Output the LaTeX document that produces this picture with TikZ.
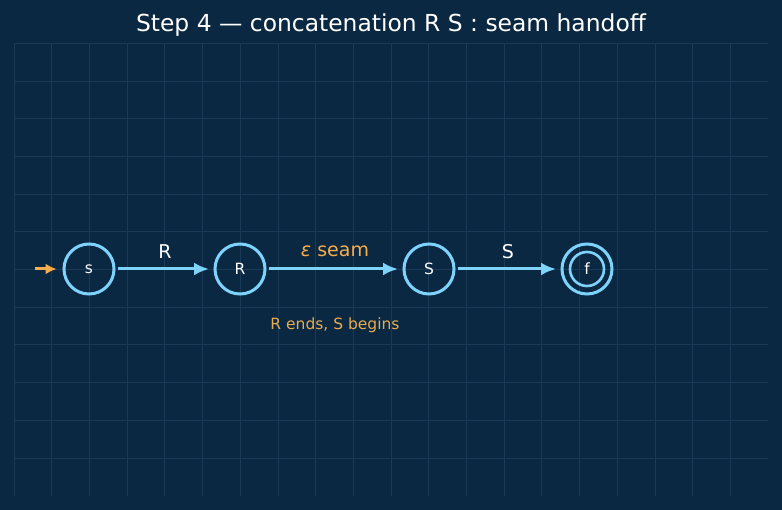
\documentclass[tikz,border=0pt]{standalone}
\usepackage{fontspec}
\setmainfont{DejaVu Sans}
\usetikzlibrary{arrows.meta}
\definecolor{bg}{HTML}{0B2842}
\definecolor{gridc}{HTML}{1A3B58}
\definecolor{edgec}{HTML}{7DD3FC}
\definecolor{orng}{HTML}{F6AD4B}
\definecolor{capc}{HTML}{E8AC50}
\begin{document}
\begin{tikzpicture}[x=1pt,y=-1pt,
  state/.style={circle,draw=edgec,line width=3pt,minimum size=50pt,inner sep=0pt,text=white,font=\fontsize{15.5}{18}\selectfont},
  inring/.style={circle,draw=edgec,line width=2.6pt,minimum size=34pt,inner sep=0pt},
  trans/.style={draw=edgec,line width=3pt,-{Latex[length=15pt,width=13pt]}},
  lbl/.style={text=white,font=\fontsize{19}{22}\selectfont},
]
\fill[bg] (0,0) rectangle (782,510);
\useasboundingbox (0,0) rectangle (782,510);
\foreach \i in {0,...,19} \draw[gridc,line width=0.8pt] ({14+37.7*\i},43.3) -- ({14+37.7*\i},496);
\foreach \j in {0,...,11} \draw[gridc,line width=0.8pt] (14,{43.3+37.7*\j}) -- (768,{43.3+37.7*\j});
\node[text=white,font=\fontsize{23.4}{28}\selectfont] (title) at (391,25.5) {Step 4 — concatenation R S : seam handoff};
\node[state] (s) at (89,269) {s};
\node[state] (R) at (240,269) {R};
\node[state] (S) at (429,269) {S};
\node[state] (f) at (587,269) {f};
\node[inring] (fin) at (f.center) {};
\coordinate (in) at (35,269);
\draw[draw=orng,line width=3pt,-{Latex[length=11pt,width=11pt]}] (in) -- ([xshift=-6pt]s.west);
\draw[trans] ([xshift=2.5pt]s.east) -- ([xshift=-4.5pt]R.west);
\draw[trans] ([xshift=2.5pt]R.east) -- ([xshift=-4.5pt]S.west);
\draw[trans] ([xshift=2.5pt]S.east) -- ([xshift=-4.5pt]f.west);
\node[lbl] (lR) at (165,251.5) {R};
\node[lbl,text=orng] (lE) at (335,251.5) {\itshape ε\upshape\ seam};
\node[lbl] (lS) at (508,251.5) {S};
\node[text=capc,font=\fontsize{15.5}{18}\selectfont] (cap) at (335,325.5) {R ends, S begins};
\end{tikzpicture}
\end{document}
